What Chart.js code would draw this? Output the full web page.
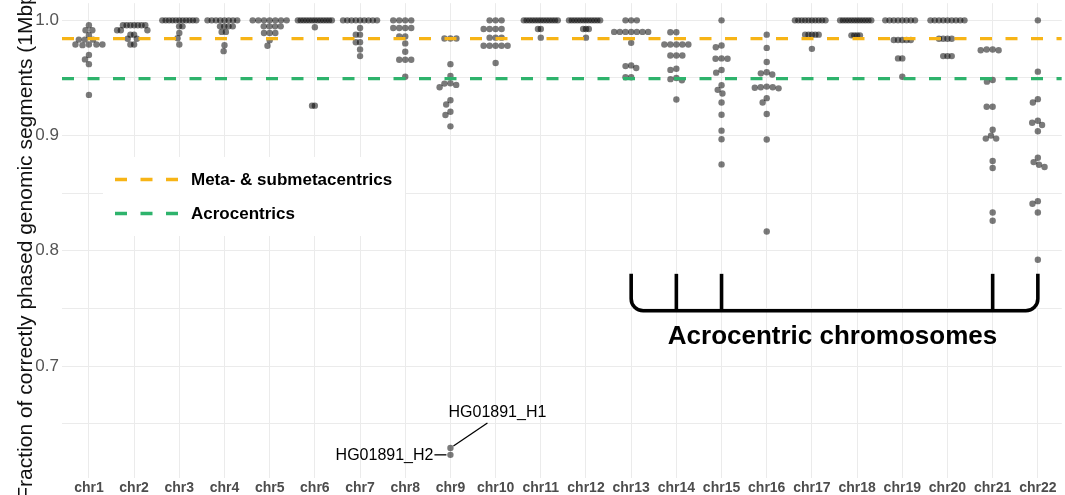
<!DOCTYPE html>
<html><head><meta charset="utf-8">
<script src="https://cdn.jsdelivr.net/npm/chart.js@4/dist/chart.umd.min.js"></script>
<style>html,body{margin:0;padding:0;background:#fff;overflow:hidden}canvas{display:block}</style>
</head><body>
<canvas id="c" width="1065" height="495"></canvas>
<script>
const categories = ['chr1','chr2','chr3','chr4','chr5','chr6','chr7','chr8','chr9','chr10','chr11','chr12','chr13','chr14','chr15','chr16','chr17','chr18','chr19','chr20','chr21','chr22'];

const chr1  = [0.9957,0.9914,0.9914,0.9871,0.9833,0.9833,0.9833,0.979,0.979,0.979,0.979,0.9785,0.970,0.9661,0.962,0.9353];
const chr2  = [0.9957,0.9957,0.9957,0.9957,0.9957,0.9957,0.9957,0.9914,0.9914,0.9914,0.9876,0.9876,0.984,0.984,0.979,0.979];
const chr3  = [1,1,1,1,1,1,1,1,1,1,1,0.9948,0.9948,0.989,0.9845,0.979];
const chr4  = [1,1,1,1,1,1,1,1,0.9948,0.9948,0.9948,0.9948,0.990,0.990,0.9784,0.9733];
const chr5  = [1,1,1,1,1,1,1,0.9948,0.9948,0.9948,0.9948,0.989,0.989,0.989,0.9828,0.978];
const chr6  = [1,1,1,1,1,1,1,1,1,1,1,1,1,0.994,0.926,0.926];
const chr7  = [1,1,1,1,1,1,1,1,1,0.9934,0.9876,0.9876,0.981,0.981,0.9747,0.969];
const chr8  = [1,1,1,1,0.9934,0.9934,0.9934,0.9934,0.986,0.986,0.980,0.9727,0.9658,0.9658,0.9658,0.951];
const chr9  = [0.9842,0.9842,0.9842,0.962,0.9517,0.9454,0.9451,0.944,0.942,0.9307,0.927,0.9207,0.9178,0.908,0.6289,0.6229];
const chr10 = [1,1,1,0.9925,0.9925,0.9925,0.9925,0.985,0.985,0.985,0.978,0.978,0.978,0.978,0.978,0.963];
const chr11 = [1,1,1,1,1,1,1,1,1,1,1,1,1,0.9925,0.9925,0.985];
const chr12 = [1,1,1,1,1,1,1,1,1,1,1,1,0.9925,0.9925,0.9925,0.985];
const chr13 = [1,1,1,0.990,0.990,0.990,0.990,0.990,0.990,0.990,0.9805,0.9609,0.9603,0.9586,0.9506,0.9506];
const chr14 = [0.9897,0.9897,0.979,0.979,0.979,0.979,0.979,0.9695,0.9695,0.9695,0.958,0.957,0.950,0.949,0.948,0.9313];
const chr15 = [1,0.9782,0.9767,0.967,0.9667,0.9667,0.9569,0.9546,0.9437,0.9397,0.9365,0.9287,0.9181,0.9043,0.8968,0.875];
const chr16 = [0.9876,0.9761,0.9638,0.955,0.954,0.953,0.9425,0.942,0.942,0.9415,0.941,0.9325,0.9287,0.9187,0.8966,0.8167];
const chr17 = [1,1,1,1,1,1,1,1,1,1,0.9876,0.9876,0.9876,0.9876,0.9876,0.9753];
const chr18 = [1,1,1,1,1,1,1,1,1,1,1,1,0.987,0.987,0.987,0.987];
const chr19 = [1,1,1,1,1,1,1,1,0.983,0.983,0.983,0.983,0.983,0.967,0.967,0.951];
const chr20 = [1,1,1,1,1,1,1,1,1,0.984,0.984,0.984,0.984,0.969,0.969,0.969];
const chr21 = [0.9747,0.9747,0.9741,0.9741,0.9483,0.9468,0.925,0.925,0.905,0.900,0.8974,0.8974,0.8779,0.8718,0.8333,0.8261];
const chr22 = [1,0.9555,0.9316,0.9287,0.9129,0.9112,0.9092,0.9037,0.8807,0.877,0.8747,0.8727,0.8431,0.8408,0.8333,0.7922];

const seriesByChrom = [chr1,chr2,chr3,chr4,chr5,chr6,chr7,chr8,chr9,chr10,chr11,chr12,chr13,chr14,chr15,chr16,chr17,chr18,chr19,chr20,chr21,chr22];

const meanLabels = ['Meta- & submetacentrics','Acrocentrics'];
const meanValues = [0.9842, 0.9494];
const meanColors = ['#F7B416','#2EB36C'];

const yTicks = [0.65,0.7,0.75,0.8,0.85,0.9,0.95,1.0];
const yTickLabels = ['','0.7','','0.8','','0.9','','1.0'];

const outliers = [
  {chrom:'chr9', value:0.6289, name:'HG01891_H1'},
  {chrom:'chr9', value:0.6229, name:'HG01891_H2'}
];
const acroChroms = ['chr13','chr14','chr15','chr21','chr22'];
const bracketText = 'Acrocentric chromosomes';
const bracketTop = 0.78, bracketBottom = 0.748, bracketLabelY = 0.7255;
const yTitle = 'Fraction of correctly phased genomic segments (1Mbp)';

const X_MIN = -0.596, X_MAX = 21.53;
const FONT = '"Liberation Sans", Arial, sans-serif';

const points = [];
seriesByChrom.forEach((vals, i) => vals.forEach(v => points.push({x: i, y: v})));

const meanDatasets = meanValues.map((v, k) => ({
  type: 'line',
  label: meanLabels[k],
  data: [{x: X_MIN, y: v}, {x: X_MAX, y: v}],
  borderColor: meanColors[k],
  borderWidth: 3.3,
  borderDash: [12, 13.5],
  pointRadius: 0,
  fill: false
}));

const swarmPlugin = {
  id: 'swarm',
  afterDatasetsUpdate(chart) {
    const dsIndex = 2;
    const meta = chart.getDatasetMeta(dsIndex);
    const data = chart.data.datasets[dsIndex].data;
    const groups = {};
    meta.data.forEach((el, i) => { (groups[data[i].x] = groups[data[i].x] || []).push(el); });
    const d = 6, W = 17;
    Object.values(groups).forEach(els => {
      const cx = els[0].x;
      const order = els.slice().sort((a, b) => a.y - b.y);
      const placed = [];
      order.forEach(el => {
        const cands = [0];
        placed.forEach(p => {
          const dy = el.y - p.y;
          if (Math.abs(dy) < d) { const dx = Math.sqrt(d * d - dy * dy); cands.push(p.off + dx, p.off - dx); }
        });
        cands.sort((a, b) => Math.abs(a) - Math.abs(b) || a - b);
        let off = 0;
        for (const c of cands) {
          if (placed.every(p => { const dy = el.y - p.y, dx = c - p.off; return dx * dx + dy * dy >= d * d - 0.01; })) { off = c; break; }
        }
        placed.push({el, y: el.y, off});
      });
      const m = Math.max(...placed.map(p => Math.abs(p.off)));
      const s = m > W ? W / m : 1;
      placed.forEach(p => { p.el.x = cx + p.off * s; });
    });
  }
};

const decorPlugin = {
  id: 'decor',
  afterDraw(chart) {
    const ctx = chart.ctx;
    const xs = chart.scales.x, ys = chart.scales.y;
    ctx.save();
    // y axis title
    ctx.save();
    ctx.translate(32, 243);
    ctx.rotate(-Math.PI / 2);
    ctx.font = '21px ' + FONT;
    ctx.fillStyle = '#111';
    ctx.textAlign = 'center';
    ctx.textBaseline = 'alphabetic';
    ctx.fillText(yTitle, 0, 0);
    ctx.restore();

    // legend
    ctx.fillStyle = '#fff';
    ctx.fillRect(103, 157, 302, 79);
    const ly = [179.5, 213.5];
    meanLabels.forEach((lab, k) => {
      ctx.save();
      ctx.strokeStyle = meanColors[k];
      ctx.lineWidth = 3.3;
      ctx.setLineDash([12, 13.5]);
      ctx.beginPath();
      ctx.moveTo(115, ly[k]); ctx.lineTo(179, ly[k]);
      ctx.stroke();
      ctx.restore();
      ctx.font = 'bold 17px ' + FONT;
      ctx.fillStyle = '#000';
      ctx.textAlign = 'left';
      ctx.textBaseline = 'middle';
      ctx.fillText(lab, 191, ly[k] + 1);
    });

    // outlier labels
    const meta = chart.getDatasetMeta(2);
    const data = chart.data.datasets[2].data;
    outliers.forEach((o, k) => {
      const ci = categories.indexOf(o.chrom);
      const idx = data.findIndex(p => p.x === ci && p.y === o.value);
      if (idx < 0) return;
      const el = meta.data[idx];
      ctx.strokeStyle = '#000';
      ctx.lineWidth = 1.3;
      ctx.font = '16px ' + FONT;
      ctx.fillStyle = '#000';
      ctx.textBaseline = 'middle';
      if (k === 0) {
        ctx.beginPath(); ctx.moveTo(el.x + 3, el.y - 2); ctx.lineTo(el.x + 37, el.y - 25); ctx.stroke();
        ctx.textAlign = 'center';
        ctx.fillText(o.name, el.x + 47, el.y - 35);
      } else {
        ctx.beginPath(); ctx.moveTo(el.x - 16, el.y); ctx.lineTo(el.x - 4, el.y); ctx.stroke();
        ctx.textAlign = 'right';
        ctx.fillText(o.name, el.x - 17, el.y + 1);
      }
    });

    // bracket
    const bx = acroChroms.map(c => xs.getPixelForValue(categories.indexOf(c)));
    const yt = ys.getPixelForValue(bracketTop), yb = ys.getPixelForValue(bracketBottom);
    const r = 12;
    ctx.strokeStyle = '#000';
    ctx.lineWidth = 3.6;
    ctx.lineJoin = 'round';
    ctx.lineCap = 'butt';
    const L = bx[0], R = bx[bx.length - 1];
    ctx.beginPath();
    ctx.moveTo(L, yt);
    ctx.lineTo(L, yb - r);
    ctx.arcTo(L, yb, L + r, yb, r);
    ctx.lineTo(R - r, yb);
    ctx.arcTo(R, yb, R, yb - r, r);
    ctx.lineTo(R, yt);
    ctx.stroke();
    for (let i = 1; i < bx.length - 1; i++) {
      ctx.beginPath(); ctx.moveTo(bx[i], yt); ctx.lineTo(bx[i], yb); ctx.stroke();
    }
    ctx.font = 'bold 26px ' + FONT;
    ctx.fillStyle = '#000';
    ctx.textAlign = 'center';
    ctx.textBaseline = 'middle';
    ctx.fillText(bracketText, (L + R) / 2 - 2, ys.getPixelForValue(bracketLabelY));
    ctx.restore();
  }
};

function zeroPad(s) { s.paddingTop = 0; s.paddingBottom = 0; s.paddingLeft = 0; s.paddingRight = 0; }

new Chart(document.getElementById('c'), {
  data: {
    datasets: [
      meanDatasets[0],
      meanDatasets[1],
      {
        type: 'scatter',
        label: 'haplotypes',
        data: points,
        backgroundColor: 'rgba(0,0,0,0.52)',
        borderWidth: 0,
        pointRadius: 3.2,
        pointHoverRadius: 3.2
      }
    ]
  },
  options: {
    responsive: false,
    animation: false,
    devicePixelRatio: 1,
    layout: {padding: 0},
    events: [],
    plugins: {legend: {display: false}, tooltip: {enabled: false}},
    scales: {
      x: {
        type: 'linear', min: X_MIN, max: X_MAX,
        afterBuildTicks(s) { s.ticks = categories.map((c, i) => ({value: i})); },
        afterFit(s) { s.height = 17; zeroPad(s); },
        ticks: {callback: v => categories[v], font: {family: FONT, size: 14, weight: 'bold'}, color: '#4d4d4d', padding: 2, maxRotation: 0, autoSkip: false},
        grid: {color: '#ebebeb', lineWidth: 1, drawTicks: false},
        border: {display: false}
      },
      y: {
        type: 'linear', min: 0.6028, max: 1.0149,
        afterBuildTicks(s) { s.ticks = yTicks.map(v => ({value: v})); },
        afterFit(s) { s.width = 62; zeroPad(s); },
        ticks: {callback: (v, i) => yTickLabels[i], font: {family: FONT, size: 17}, color: '#555', padding: 3, autoSkip: false},
        grid: {color: '#ebebeb', lineWidth: 1, drawTicks: false},
        border: {display: false}
      }
    }
  },
  plugins: [swarmPlugin, decorPlugin]
});
</script>
</body></html>
